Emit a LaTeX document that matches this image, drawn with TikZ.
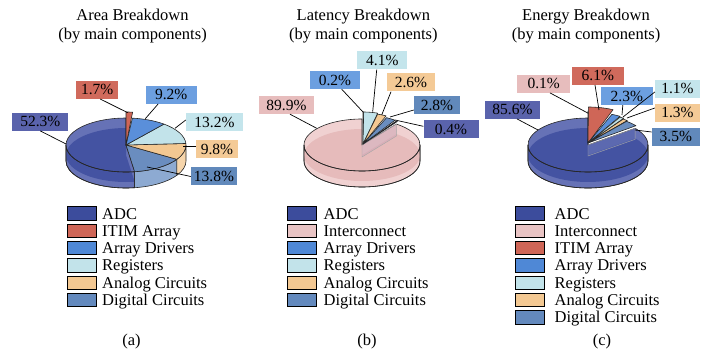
\documentclass[tikz,border=0pt]{standalone}
\usepackage{fontspec}
\setmainfont{Liberation Serif}
\usetikzlibrary{calc}
\definecolor{adcL}{HTML}{3C4C9C}
\definecolor{adcDark}{HTML}{4453A2}
\definecolor{adcRing}{HTML}{6672B6}
\definecolor{adcB}{HTML}{5A63AC}
\definecolor{adcFace}{HTML}{5866AE}
\definecolor{itim}{HTML}{CF6657}
\definecolor{itimB}{HTML}{D06A5C}
\definecolor{adL}{HTML}{4F88D6}
\definecolor{adP}{HTML}{5A8FDA}
\definecolor{adB}{HTML}{6C9FE0}
\definecolor{reg}{HTML}{C2E3EA}
\definecolor{regB}{HTML}{C4E5EC}
\definecolor{ana}{HTML}{F3C892}
\definecolor{anaSide}{HTML}{F6D5AB}
\definecolor{anaB}{HTML}{F4CA96}
\definecolor{dig}{HTML}{6389BD}
\definecolor{digP}{HTML}{6A8DBF}
\definecolor{digSide}{HTML}{8DAAD2}
\definecolor{digB}{HTML}{6189BB}
\definecolor{inter}{HTML}{E9C4C4}
\definecolor{interDark}{HTML}{E6BBBB}
\definecolor{interRing}{HTML}{F0D1D1}
\definecolor{interB}{HTML}{E7BDBD}
\definecolor{interFace}{HTML}{CFA8B6}
% sector: opts, cx, cy, rx, ry, start, end
\newcommand{\pieSec}[7]{\path[#1,shift={(#2,#3)}] (0,0) -- (#6:#4pt and #5pt) arc[start angle=#6,end angle=#7,x radius=#4pt,y radius=#5pt] -- cycle;}
% side wall: opts, cx, cy, rx, ry, h, start, end
\newcommand{\pieSide}[8]{\path[#1,shift={(#2,#3)}] (#7:#4pt and #5pt) arc[start angle=#7,end angle=#8,x radius=#4pt,y radius=#5pt] -- ++(0,-#6) arc[start angle=#8,end angle=#7,x radius=#4pt,y radius=#5pt] -- cycle;}
\begin{document}
\begin{tikzpicture}[x=1pt,y=1pt,
  pieline/.style={draw=black!85,line width=0.6pt,line join=round},
  lab/.style={inner sep=0pt,minimum height=18pt,font=\fontsize{15.5}{18}\selectfont},
  leader/.style={draw=black,line width=0.7pt},
  ttl/.style={anchor=base,inner sep=0pt,font=\fontsize{16.5}{19}\selectfont},
  swatch/.style={draw=black,line width=0.8pt,minimum width=29pt,minimum height=13.3pt,inner sep=0pt},
  legtext/.style={anchor=base west,inner sep=0pt,font=\fontsize{16.5}{19}\selectfont}]
\useasboundingbox (0,0) rectangle (713,354);

% ================= Titles =================
\node[ttl] (tA1) at (132.5,333) {Area Breakdown};
\node[ttl] (tA2) at (132.5,314) {(by main components)};
\node[ttl] (tB1) at (363.4,333) {Latency Breakdown};
\node[ttl] (tB2) at (363.4,314) {(by main components)};
\node[ttl] (tC1) at (586,333) {Energy Breakdown};
\node[ttl] (tC2) at (586,314) {(by main components)};

% ================= Pie (a) =================
\pieSide{fill=adcRing,pieline}{126}{209}{60}{27}{16}{180}{278.28}
\pieSide{fill=digSide,pieline}{126}{209}{60}{27}{16}{278.28}{327.96}
\pieSide{fill=anaSide,pieline}{126}{209}{60}{27}{16}{327.96}{360}
\pieSec{fill=adcRing}{126}{209}{60}{27}{-81.72}{-270}
\begin{scope}
  \clip[shift={(126,209)}] (0,0) -- (-81.72:60pt and 27pt) arc[start angle=-81.72,end angle=-270,x radius=60pt,y radius=27pt] -- cycle
    (180:60pt and 27pt) arc[start angle=180,end angle=278.28,x radius=60pt,y radius=27pt] -- ++(0,-16) arc[start angle=278.28,end angle=180,x radius=60pt,y radius=27pt] -- cycle;
  \pieSec{fill=adcDark}{126}{199}{60}{27}{-81.72}{-270}
\end{scope}
\pieSec{pieline}{126}{209}{60}{27}{-81.72}{-270}
\pieSide{pieline}{126}{209}{60}{27}{16}{180}{278.28}
\pieSec{fill=digP,pieline}{126}{209}{60}{27}{-32.04}{-81.72}
\pieSec{fill=ana,pieline}{126}{209}{60}{27}{3.24}{-32.04}
\pieSec{fill=reg,pieline}{126}{209}{60}{27}{50.76}{3.24}
\pieSec{fill=adP,pieline}{126}{209}{60}{27}{83.88}{50.76}
\pieSec{fill=itim,pieline}{126}{209}{62}{33}{90}{83.88}

% ================= Pie (b) =================
\pieSide{fill=interRing,pieline}{362}{209}{58}{26}{16}{180}{360}
\pieSec{fill=interRing}{362}{209}{58}{26}{53.64}{-270}
\begin{scope}
  \clip[shift={(362,209)}] (0,0) -- (53.64:58pt and 26pt) arc[start angle=53.64,end angle=-270,x radius=58pt,y radius=26pt] -- cycle
    (180:58pt and 26pt) arc[start angle=180,end angle=360,x radius=58pt,y radius=26pt] -- ++(0,-16) arc[start angle=360,end angle=180,x radius=58pt,y radius=26pt] -- cycle;
  \pieSec{fill=interDark}{362}{199}{58}{26}{53.64}{-270}
\end{scope}
\pieSec{pieline}{362}{209}{58}{26}{53.64}{-270}
\pieSide{pieline}{362}{209}{58}{26}{16}{180}{360}
\path[fill=interFace,fill opacity=0.6,draw=black!35,line width=0.4pt,shift={(362,209)}] (0,0) -- (53.64:58pt and 26pt) -- ++(0,-12) -- (0,-12) -- cycle;
\pieSec{fill=adP,pieline}{363}{210}{55}{32}{90}{89.28}
\pieSec{fill=reg,pieline}{363}{210}{55}{32}{89.28}{74.52}
\pieSec{fill=ana,pieline}{363}{210}{55}{31}{74.52}{65.16}
\pieSec{fill=digP,pieline}{363}{210}{56}{29}{65.16}{55.08}
\pieSec{fill=adcDark,pieline}{363}{210}{58}{28}{55.08}{53.64}

% ================= Pie (c) =================
\pieSide{fill=adcRing,pieline}{588}{209}{60}{27}{16}{180}{360}
\pieSec{fill=adcRing}{588}{209}{60}{27}{38.16}{-270}
\begin{scope}
  \clip[shift={(588,209)}] (0,0) -- (38.16:60pt and 27pt) arc[start angle=38.16,end angle=-270,x radius=60pt,y radius=27pt] -- cycle
    (180:60pt and 27pt) arc[start angle=180,end angle=360,x radius=60pt,y radius=27pt] -- ++(0,-16) arc[start angle=360,end angle=180,x radius=60pt,y radius=27pt] -- cycle;
  \pieSec{fill=adcDark}{588}{199}{60}{27}{38.16}{-270}
\end{scope}
\pieSec{pieline}{588}{209}{60}{27}{38.16}{-270}
\pieSide{pieline}{588}{209}{60}{27}{16}{180}{360}
\path[fill=adcFace,fill opacity=0.7,draw=black!35,line width=0.4pt,shift={(588,209)}] (0,0) -- (38.16:60pt and 27pt) -- ++(0,-11) -- (0,-11) -- cycle;
\pieSec{fill=inter,pieline}{588}{211}{60}{32}{90}{89.64}
\pieSec{fill=itim,pieline}{588}{211}{66}{36}{89.64}{67.68}
\pieSec{fill=adP,pieline}{588}{211}{63}{31}{67.68}{59.4}
\pieSec{fill=reg,pieline}{588}{211}{63}{30}{59.4}{55.44}
\pieSec{fill=ana,pieline}{588}{211}{62}{29}{55.44}{50.76}
\pieSec{fill=digP,pieline}{588}{211}{61}{28}{50.76}{38.16}

% ================= Percentage labels =================
\node[lab,fill=adcB,minimum width=56pt] (a1) at (40.3,232.3) {52.3\%};
\node[lab,fill=itimB,minimum width=42pt] (a2) at (97.2,264.2) {1.7\%};
\node[lab,fill=adB,minimum width=51pt] (a3) at (171.2,259.3) {9.2\%};
\node[lab,fill=regB,minimum width=57pt] (a4) at (214.5,232) {13.2\%};
\node[lab,fill=anaB,minimum width=42pt] (a5) at (217,204.5) {9.8\%};
\node[lab,fill=digB,minimum width=46pt] (a6) at (214,177.5) {13.8\%};

\node[lab,fill=interB,minimum width=55pt] (b1) at (286.5,249) {89.9\%};
\node[lab,fill=adB,minimum width=50pt] (b2) at (335,274) {0.2\%};
\node[lab,fill=regB,minimum width=50pt] (b3) at (382.3,293.5) {4.1\%};
\node[lab,fill=anaB,minimum width=48pt] (b4) at (411,271.5) {2.6\%};
\node[lab,fill=digB,minimum width=46pt] (b5) at (437,249) {2.8\%};
\node[lab,fill=adcB,minimum width=55pt] (b6) at (451,225) {0.4\%};

\node[lab,fill=adcB,minimum width=55pt] (c1) at (512.5,244.3) {85.6\%};
\node[lab,fill=interB,minimum width=53pt] (c2) at (543.7,270.3) {0.1\%};
\node[lab,fill=itimB,minimum width=52pt] (c3) at (597.8,278.2) {6.1\%};
\node[lab,fill=adB,minimum width=52pt] (c4) at (626.8,258) {2.3\%};
\node[lab,fill=regB,minimum width=45pt] (c5) at (677.5,265.3) {1.1\%};
\node[lab,fill=anaB,minimum width=45pt] (c6) at (677.5,241.2) {1.3\%};
\node[lab,fill=digB,minimum width=48pt] (c7) at (675.8,217.2) {3.5\%};

% leader end points on the pies
\coordinate (pa1) at (66,210);
\coordinate (pa2) at (127.7,241.3);
\coordinate (pa3) at (145.3,235.3);
\coordinate (pa4) at (175,225.7);
\coordinate (pa5) at (183.3,208);
\coordinate (pa6) at (147,187);
\coordinate (pb1) at (316.7,225.7);
\coordinate (pb2) at (363.3,241.7);
\coordinate (pb3) at (372.7,242.3);
\coordinate (pb4) at (381.7,239);
\coordinate (pb5) at (390,237);
\coordinate (pb6) at (395,234);
\coordinate (pc1) at (538,224);
\coordinate (pc2) at (588.3,240.7);
\coordinate (pc3) at (599,244);
\coordinate (pc4) at (622,239);
\coordinate (pc5) at (623,237);
\coordinate (pc6) at (627,236);
\coordinate (pc7) at (635,224);

\draw[leader] (a1.south) -- (pa1);
\draw[leader] ([xshift=3pt]a2.south) -- (pa2);
\draw[leader] ([xshift=-13pt]a3.south) -- (pa3);
\draw[leader] ([yshift=2pt]a4.west) -- (pa4);
\draw[leader] ([yshift=3.5pt]a5.west) -- (pa5);
\draw[leader] (a6.west) -- (pa6);
\draw[leader] ([xshift=3.5pt]b1.south) -- (pb1);
\draw[leader] ([xshift=6.7pt]b2.south) -- (pb2);
\draw[leader] ([xshift=-5.6pt]b3.south) -- (pb3);
\draw[leader] ([xshift=-20pt]b4.south) -- (pb4);
\draw[leader] ([yshift=-5pt]b5.west) -- (pb5);
\draw[leader] ([yshift=2.7pt]b6.west) -- (pb6);
\draw[leader] ([xshift=4.5pt]c1.south) -- (pc1);
\draw[leader] ([xshift=6.3pt]c2.south) -- (pc2);
\draw[leader] ([xshift=-2.8pt]c3.south) -- (pc3);
\draw[leader] ([xshift=-4pt]c4.south) -- (pc4);
\draw[leader] ([yshift=-3.3pt]c5.west) -- (pc5);
\draw[leader] ([yshift=4.8pt]c6.west) -- (pc6);
\draw[leader] ([yshift=4.8pt]c7.west) -- (pc7);

% ================= Legends =================
% (a)
\node[swatch,fill=adcL] (sa1) at (81.6,140.5) {};
\node[swatch,fill=itim] (sa2) at (81.6,123.2) {};
\node[swatch,fill=adL]  (sa3) at (81.6,105.9) {};
\node[swatch,fill=reg]  (sa4) at (81.6,88.6) {};
\node[swatch,fill=ana]  (sa5) at (81.6,71.3) {};
\node[swatch,fill=dig]  (sa6) at (81.6,54.0) {};
\node[legtext] (ea1) at (102,135) {ADC};
\node[legtext] (ea2) at (102,117.7) {ITIM Array};
\node[legtext] (ea3) at (102,100.4) {Array Drivers};
\node[legtext] (ea4) at (102,83.1) {Registers};
\node[legtext] (ea5) at (102,65.8) {Analog Circuits};
\node[legtext] (ea6) at (102,48.5) {Digital Circuits};
% (b)
\node[swatch,fill=adcL]  (sb1) at (301.6,140.5) {};
\node[swatch,fill=inter] (sb2) at (301.6,123.2) {};
\node[swatch,fill=adL]   (sb3) at (301.6,105.9) {};
\node[swatch,fill=reg]   (sb4) at (301.6,88.6) {};
\node[swatch,fill=ana]   (sb5) at (301.6,71.3) {};
\node[swatch,fill=dig]   (sb6) at (301.6,54.0) {};
\node[legtext] (eb1) at (323.5,135) {ADC};
\node[legtext] (eb2) at (323.5,117.7) {Interconnect};
\node[legtext] (eb3) at (323.5,100.4) {Array Drivers};
\node[legtext] (eb4) at (323.5,83.1) {Registers};
\node[legtext] (eb5) at (323.5,65.8) {Analog Circuits};
\node[legtext] (eb6) at (323.5,48.5) {Digital Circuits};
% (c)
\node[swatch,fill=adcL]  (sc1) at (530,140.5) {};
\node[swatch,fill=inter] (sc2) at (530,123.2) {};
\node[swatch,fill=itim]  (sc3) at (530,105.9) {};
\node[swatch,fill=adL]   (sc4) at (530,88.6) {};
\node[swatch,fill=reg]   (sc5) at (530,71.3) {};
\node[swatch,fill=ana]   (sc6) at (530,54.0) {};
\node[swatch,fill=dig]   (sc7) at (530,36.7) {};
\node[legtext] (ec1) at (554.5,135) {ADC};
\node[legtext] (ec2) at (554.5,117.7) {Interconnect};
\node[legtext] (ec3) at (554.5,100.4) {ITIM Array};
\node[legtext] (ec4) at (554.5,83.1) {Array Drivers};
\node[legtext] (ec5) at (554.5,65.8) {Registers};
\node[legtext] (ec6) at (554.5,48.5) {Analog Circuits};
\node[legtext] (ec7) at (554.5,31.2) {Digital Circuits};

% ================= Captions =================
\node[ttl] (capa) at (131.5,9) {(a)};
\node[ttl] (capb) at (367,9) {(b)};
\node[ttl] (capc) at (602,9) {(c)};
\end{tikzpicture}
\end{document}
